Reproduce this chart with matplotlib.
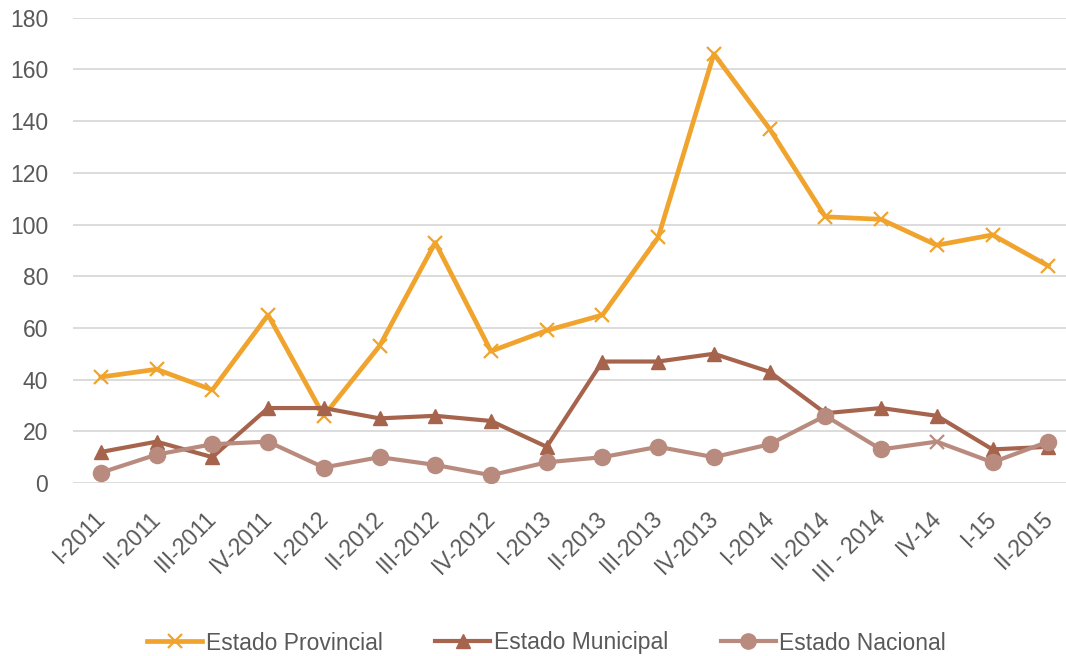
import matplotlib
matplotlib.use("Agg")
import matplotlib.pyplot as plt
from matplotlib.transforms import ScaledTranslation
from matplotlib.lines import Line2D

categories = ["I-2011", "II-2011", "III-2011", "IV-2011", "I-2012", "II-2012",
              "III-2012", "IV-2012", "I-2013", "II-2013", "III-2013", "IV-2013",
              "I-2014", "II-2014", "III - 2014", "IV-14", "I-15", "II-2015"]
provincial = [41, 44, 36, 65, 26, 53, 93, 51, 59, 65, 95, 166, 137, 103, 102, 92, 96, 84]
municipal = [12, 16, 10, 29, 29, 25, 26, 24, 14, 47, 47, 50, 43, 27, 29, 26, 13, 14]
nacional = [4, 11, 15, 16, 6, 10, 7, 3, 8, 10, 14, 10, 15, 26, 13, 16, 8, 16]
nacional_markers = ["o"] * 15 + ["x"] + ["o"] * 2
yticks = [0, 20, 40, 60, 80, 100, 120, 140, 160, 180]

c_prov = "#F0A42E"
c_mun = "#A6644D"
c_nac = "#B98B7F"
text_color = "#595959"
grid_color = "#D9D9D9"
fs = 16.5

plt.rcParams["font.family"] = ["Liberation Sans", "DejaVu Sans"]

fig = plt.figure(figsize=(10.66, 6.56), dpi=100)
ax = fig.add_axes([0.0685, 0.2637, 0.941, 0.7093])

x = list(range(len(categories)))

ax.plot(x, provincial, color=c_prov, lw=3.4, marker="x", ms=10, mew=1.6,
        label="Estado Provincial", zorder=3)
ax.plot(x, municipal, color=c_mun, lw=3.0, marker="^", ms=10,
        label="Estado Municipal", zorder=4)
ax.plot(x, nacional, color=c_nac, lw=3.0, zorder=5)
for m in sorted(set(nacional_markers)):
    idx = [i for i, mk in enumerate(nacional_markers) if mk == m]
    ax.plot([x[i] for i in idx], [nacional[i] for i in idx], linestyle="none",
            marker=m, color=c_nac, ms=11 if m == "o" else 10, mew=1.6, zorder=5)

ax.set_xlim(-0.5, len(categories) - 0.5)
ax.set_ylim(0, 180)
ax.set_yticks(yticks)
ax.yaxis.grid(True, color=grid_color, lw=1.3)
ax.set_axisbelow(True)
for s in ax.spines.values():
    s.set_visible(False)
ax.tick_params(axis="y", length=0, pad=18, labelsize=fs, labelcolor=text_color)
ax.tick_params(axis="x", length=0)
ax.set_xticks(x)
ax.set_xticklabels([])

offset = ScaledTranslation(1 / 100, -32 / 100, fig.dpi_scale_trans)
for i, lab in enumerate(categories):
    ax.text(x[i], 0, lab, transform=ax.get_xaxis_transform() + offset,
            rotation=45, rotation_mode="anchor", ha="right", va="center",
            fontsize=fs, color=text_color)

handles = [
    Line2D([], [], color=c_prov, lw=3.4, marker="x", ms=10, mew=1.6),
    Line2D([], [], color=c_mun, lw=3.0, marker="^", ms=10),
    Line2D([], [], color=c_nac, lw=3.0, marker="o", ms=11),
]
labels = ["Estado Provincial", "Estado Municipal", "Estado Nacional"]
leg = fig.legend(handles, labels, loc="center", bbox_to_anchor=(0.5127, 1 - 643 / 656),
                 ncol=3, frameon=False, fontsize=fs, handlelength=2.4,
                 handletextpad=0.15, columnspacing=2.3, labelcolor=text_color)

fig.savefig("out.png", dpi=100)
